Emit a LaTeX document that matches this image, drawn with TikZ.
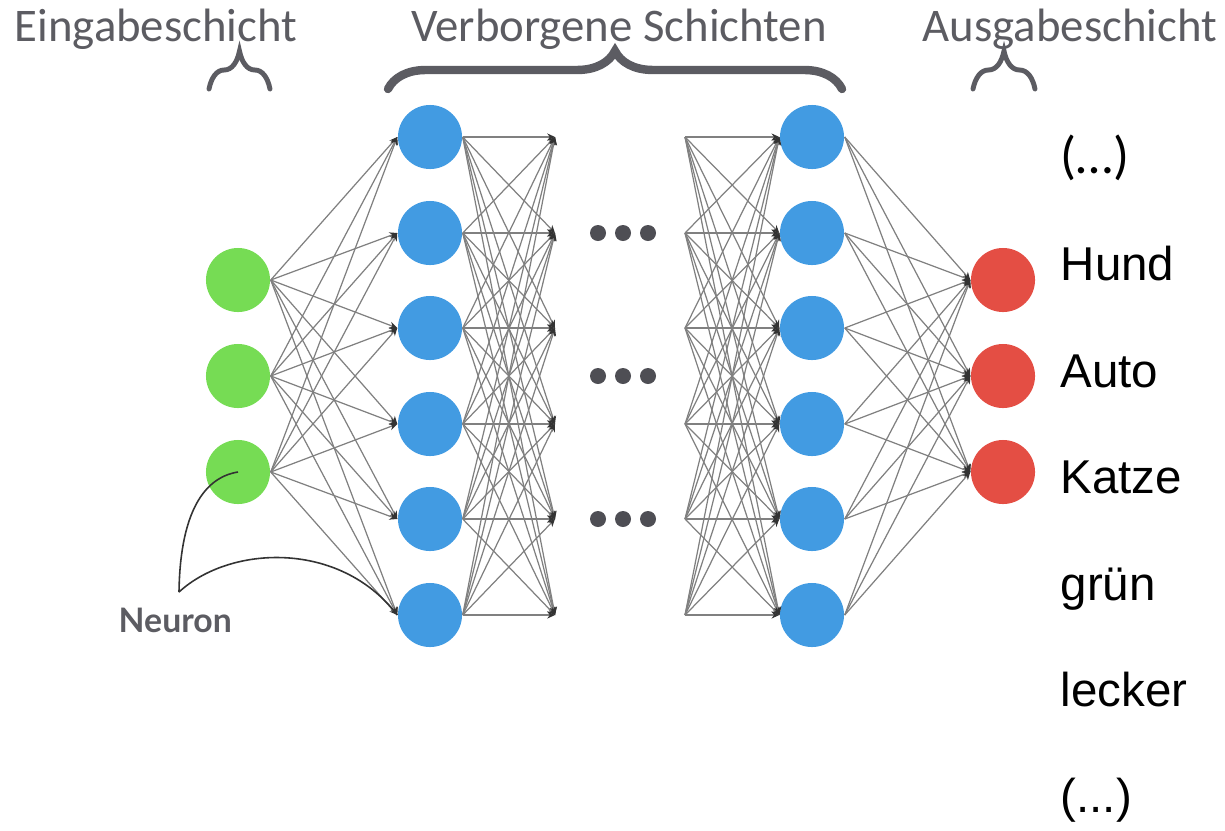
\documentclass[tikz,border=0pt]{standalone}
\usepackage{fontspec}
\setmainfont{Liberation Sans}
\newfontfamily\calfont{Carlito}
\newfontfamily\latofont{Lato}
\usepackage{xcolor}
\usetikzlibrary{arrows.meta,decorations.pathreplacing}
\definecolor{ingreen}{RGB}{118,220,84}
\definecolor{hidblue}{RGB}{66,155,226}
\definecolor{outred}{RGB}{228,78,68}
\definecolor{labgray}{RGB}{92,92,98}
\definecolor{dotgray}{RGB}{78,78,84}
\tikzset{
  neuron/.style={circle,minimum size=0.64cm,inner sep=0pt},
  edge/.style={draw=black!50,line width=0.35pt,-{Stealth[length=2.2pt,width=2pt,color=black!80]}},
  layerbrace/.style={decorate,decoration={brace,amplitude=0.38cm},draw=labgray,line cap=round},
  layertext/.style={anchor=base,text=labgray,font=\calfont\fontsize{13.3}{16}\selectfont},
  outtext/.style={anchor=base west,inner sep=0pt,font=\fontsize{13.5}{16}\selectfont},
  pointer/.style={draw=black!80,line width=0.45pt}
}
\begin{document}
\begin{tikzpicture}[x=0.01cm,y=-0.01cm]
    \useasboundingbox (0,0) rectangle (1225,830);

    % Layer titles and braces
    \node[layertext] (lin) at (156,41) {Eingabeschicht};
    \node[layertext] (lhid) at (619,41) {Verborgene Schichten};
    \node[layertext] (lout) at (1070,41) {Ausgabeschicht};
    \draw[layerbrace,line width=1.4pt] (209,89) -- (270,89);
    \draw[layerbrace,line width=2.4pt] (388,89) -- (842,89);
    \draw[layerbrace,line width=1.4pt] (973,89) -- (1035,89);

    % Neurons
    \foreach \y [count=\i] in {280,376,472}
      \node[neuron,fill=ingreen] (in\i) at (238,\y) {};
    \foreach \y [count=\i] in {137,233,328,424,519,615} {
      \node[neuron,fill=hidblue] (ha\i) at (430,\y) {};
      \node[neuron,fill=hidblue] (hb\i) at (812,\y) {};
      \coordinate (pa\i) at (555,\y);
      \coordinate (pb\i) at (685,\y);
    }
    \foreach \y [count=\i] in {280,376,472}
      \node[neuron,fill=outred] (out\i) at (1003,\y) {};

    % Connections
    \foreach \i in {1,2,3}
      \foreach \j in {1,...,6}
        \draw[edge] (in\i.east) -- (ha\j.west);
    \foreach \i in {1,...,6}
      \foreach \j in {1,...,6} {
        \draw[edge] (ha\i.east) -- (pa\j);
        \draw[edge] (pb\i) -- (hb\j.west);
      }
    \foreach \i in {1,...,6}
      \foreach \j in {1,2,3}
        \draw[edge] (hb\i.east) -- (out\j.west);

    % Dots
    \foreach \y in {233,376,519}
      \foreach \x in {598,623,648}
        \fill[dotgray] (\x,\y) circle (0.08cm);

    % Neuron label
    \node[anchor=base west,inner sep=0pt,text=labgray,font=\latofont\bfseries\fontsize{9.6}{11}\selectfont] (neur) at (118,632) {Neuron};
    \coordinate (cusp) at (179,592);
    \draw[pointer] (in3.center) .. controls (200,478) and (180,520) .. (cusp);
    \draw[pointer] (cusp) .. controls (230,545) and (340,540) .. (ha6.west);

    % Output words
    \node[outtext,font=\calfont\fontsize{15}{18}\selectfont] (w0) at (1060,173) {(…)};
    \node[outtext] (w1) at (1060,280) {Hund};
    \node[outtext] (w2) at (1060,387) {Auto};
    \node[outtext] (w3) at (1060,493) {Katze};
    \node[outtext] (w4) at (1060,600) {grün};
    \node[outtext] (w5) at (1060,706) {lecker};
    \node[outtext] (w6) at (1060,812) {(...)};
\end{tikzpicture}
\end{document}
